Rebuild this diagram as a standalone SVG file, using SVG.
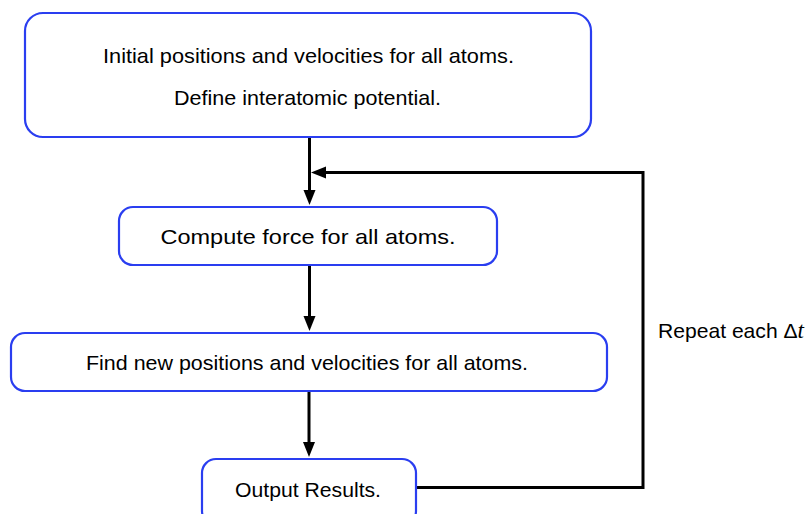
<svg xmlns="http://www.w3.org/2000/svg" width="806" height="514" viewBox="0 0 806 514">
  <defs>
    <style>
      .box { fill: #fff; stroke: #2a3ef0; stroke-width: 2.2; }
      .lbl { font-family: "Liberation Sans", Arial, sans-serif; font-size: 21px; fill: #000; text-anchor: middle; }
      .edge { fill: none; stroke: #000; stroke-width: 3; }
      .head { fill: #000; }
    </style>
  </defs>
  <rect width="806" height="514" fill="#fff"/>

  <g id="connectors">
    <line class="edge" x1="309.5" y1="138" x2="309.5" y2="192"/>
    <path class="head" d="M303.5,190 L315.5,190 L309.5,205 Z"/>
    <line class="edge" x1="309.5" y1="266" x2="309.5" y2="318"/>
    <path class="head" d="M303.5,316 L315.5,316 L309.5,331 Z"/>
    <line class="edge" x1="309" y1="392" x2="309" y2="444"/>
    <path class="head" d="M303,442 L315,442 L309,457 Z"/>
    <polyline class="edge" points="416,487.5 643,487.5 643,172.5 324,172.5"/>
    <path class="head" d="M326,166.5 L326,178.5 L311,172.5 Z"/>
    <text x="658" y="338" font-family="'Liberation Sans', Arial, sans-serif" font-size="21" fill="#000" textLength="146" lengthAdjust="spacingAndGlyphs">Repeat each Δ<tspan font-family="'Liberation Serif', 'Times New Roman', serif" font-style="italic" font-size="23">t</tspan></text>
  </g>

  <g id="init">
    <rect class="box" x="25" y="13" width="566" height="124" rx="18"/>
    <text class="lbl" x="308.5" y="63" textLength="411" lengthAdjust="spacingAndGlyphs">Initial positions and velocities for all atoms.</text>
    <text class="lbl" x="307.5" y="105" textLength="267" lengthAdjust="spacingAndGlyphs">Define interatomic potential.</text>
  </g>

  <g id="force">
    <rect class="box" x="119" y="207" width="378" height="58" rx="14"/>
    <text class="lbl" x="308" y="244" textLength="295" lengthAdjust="spacingAndGlyphs">Compute force for all atoms.</text>
  </g>

  <g id="update">
    <rect class="box" x="11" y="333" width="596" height="58" rx="14"/>
    <text class="lbl" x="307" y="370" textLength="442" lengthAdjust="spacingAndGlyphs">Find new positions and velocities for all atoms.</text>
  </g>

  <g id="output">
    <rect class="box" x="202" y="459" width="214" height="66" rx="14"/>
    <text class="lbl" x="308" y="497" textLength="146" lengthAdjust="spacingAndGlyphs">Output Results.</text>
  </g>
</svg>
